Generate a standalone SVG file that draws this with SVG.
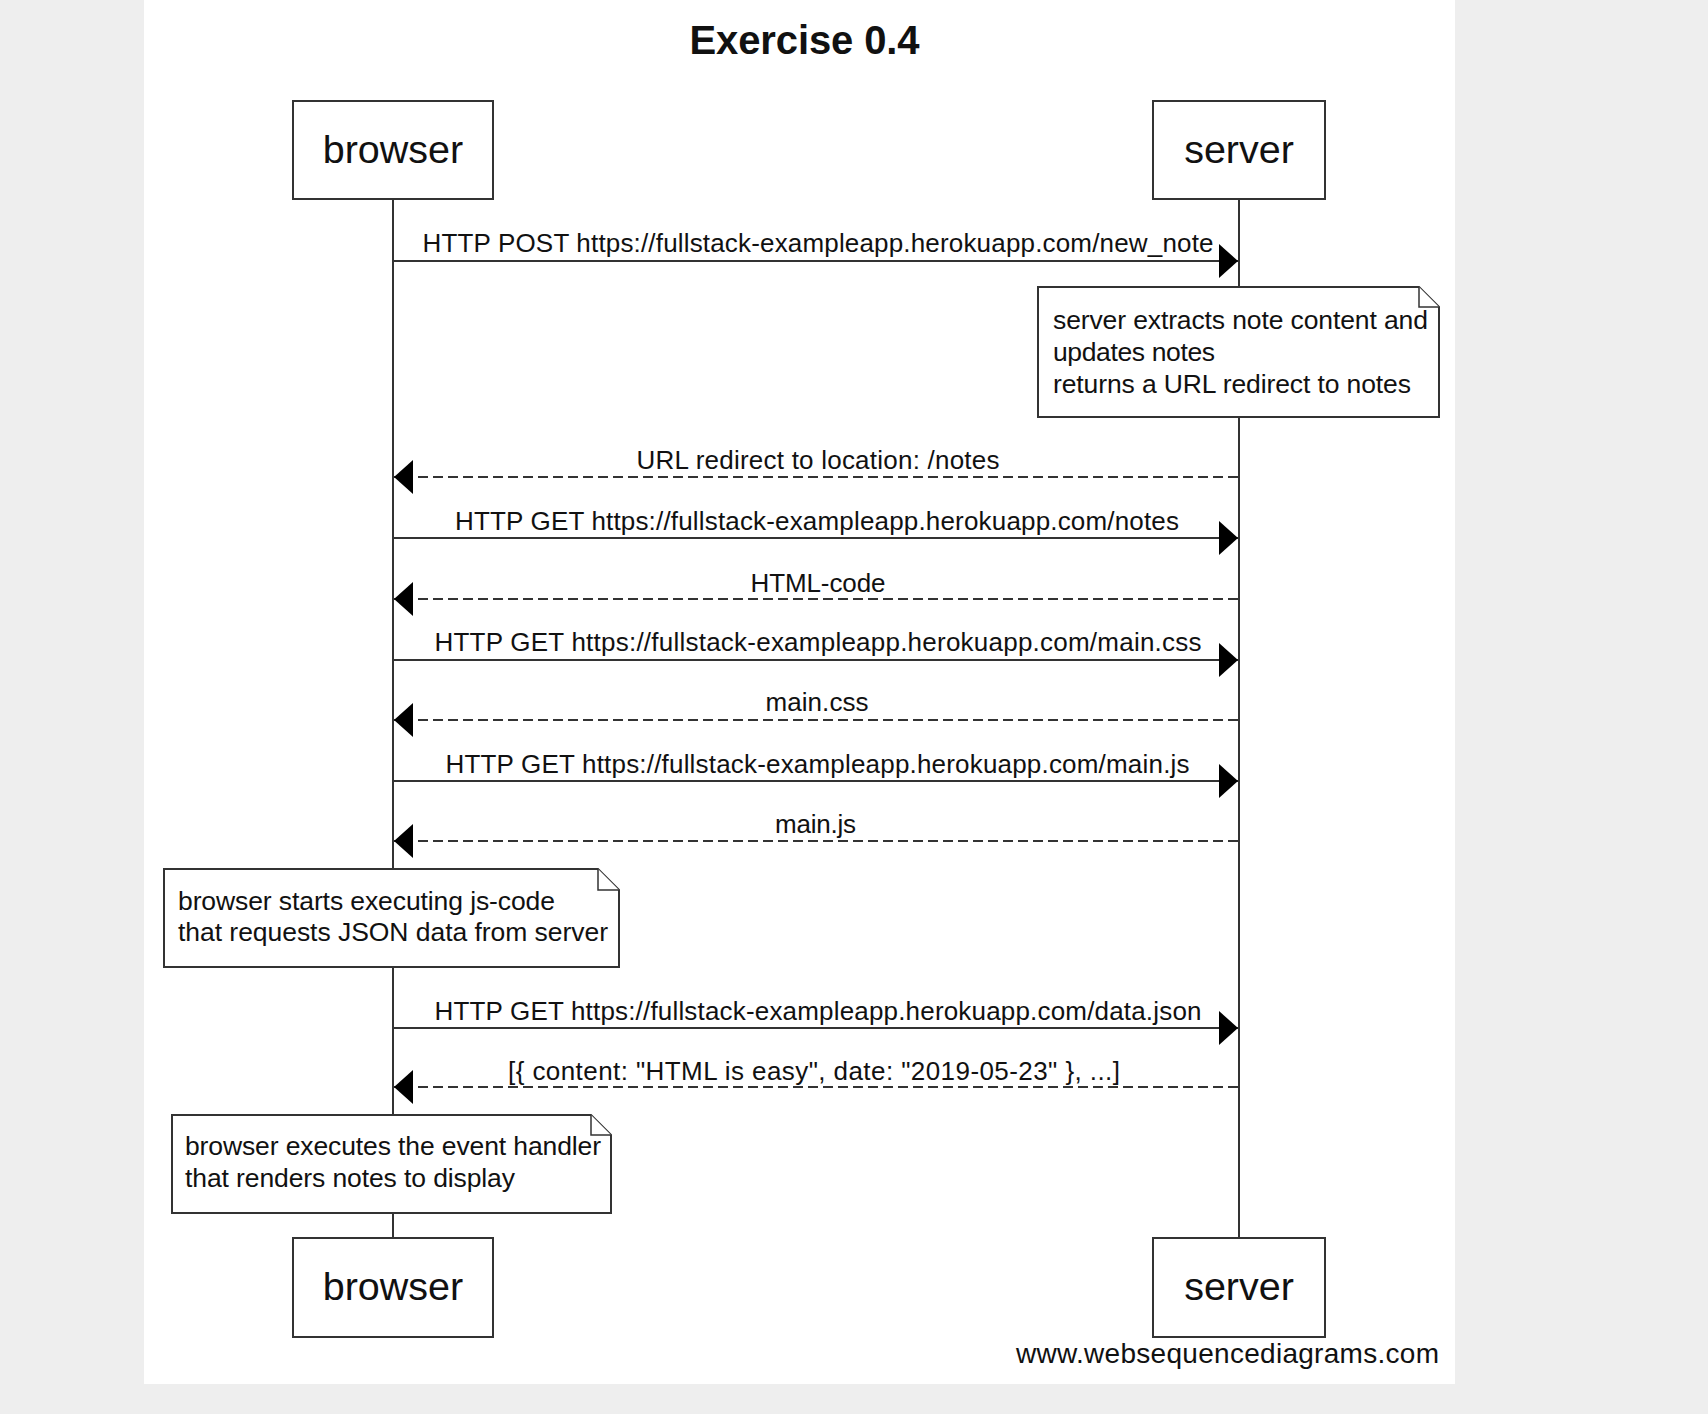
<svg xmlns="http://www.w3.org/2000/svg" width="1708" height="1414" viewBox="0 0 1708 1414">
<defs>
<style>
text{font-family:"Liberation Sans",Arial,sans-serif;fill:#111}
.title{font-size:40px;font-weight:bold}
.pname{font-size:39.5px;text-anchor:middle}
.lbl{font-size:26px;text-anchor:middle}
.ntxt{font-size:26.5px}
.wm{font-size:28px}
.box{fill:#fff;stroke:#333;stroke-width:2}
.life{stroke:#333;stroke-width:2;fill:none}
.msg{stroke:#333;stroke-width:2;fill:none}
.ret{stroke:#333;stroke-width:2;fill:none;stroke-dasharray:10 5}
.note{fill:#fff;stroke:#333;stroke-width:2}
.fold{fill:#fff;stroke:#333;stroke-width:1.5}
</style>
<marker id="ah" markerUnits="userSpaceOnUse" markerWidth="20" markerHeight="36" viewBox="0 0 20 36" refX="19" refY="18" orient="auto">
<path d="M0,1 L19,18 L0,35 Z" fill="#000"/>
</marker>
</defs>
<rect x="0" y="0" width="1708" height="1414" fill="#eeeeee"/>
<rect x="144" y="0" width="1311" height="1384" fill="#ffffff"/>
<text class="title" x="804.5" y="53.5" text-anchor="middle" textLength="230">Exercise 0.4</text>

<g id="lifelines">
<line class="life" x1="393" y1="199" x2="393" y2="1238"/>
<line class="life" x1="1239" y1="199" x2="1239" y2="1238"/>
</g>

<g id="connectors">
<line class="msg" x1="393" y1="261" x2="1238" y2="261" marker-end="url(#ah)"/>
<text class="lbl" x="818" y="252" textLength="791">HTTP POST https://fullstack-exampleapp.herokuapp.com/new_note</text>
<line class="ret" x1="1238" y1="477" x2="394" y2="477" marker-end="url(#ah)"/>
<text class="lbl" x="818" y="469" textLength="363">URL redirect to location: /notes</text>
<line class="msg" x1="393" y1="538" x2="1238" y2="538" marker-end="url(#ah)"/>
<text class="lbl" x="817" y="529.5" textLength="724">HTTP GET https://fullstack-exampleapp.herokuapp.com/notes</text>
<line class="ret" x1="1238" y1="599" x2="394" y2="599" marker-end="url(#ah)"/>
<text class="lbl" x="818" y="591.5" textLength="135">HTML-code</text>
<line class="msg" x1="393" y1="660" x2="1238" y2="660" marker-end="url(#ah)"/>
<text class="lbl" x="818" y="651" textLength="767">HTTP GET https://fullstack-exampleapp.herokuapp.com/main.css</text>
<line class="ret" x1="1238" y1="720" x2="394" y2="720" marker-end="url(#ah)"/>
<text class="lbl" x="817" y="711" textLength="103">main.css</text>
<line class="msg" x1="393" y1="781" x2="1238" y2="781" marker-end="url(#ah)"/>
<text class="lbl" x="817.5" y="772.5" textLength="744">HTTP GET https://fullstack-exampleapp.herokuapp.com/main.js</text>
<line class="ret" x1="1238" y1="841" x2="394" y2="841" marker-end="url(#ah)"/>
<text class="lbl" x="815.5" y="832.5" textLength="81">main.js</text>
<line class="msg" x1="393" y1="1028" x2="1238" y2="1028" marker-end="url(#ah)"/>
<text class="lbl" x="818" y="1019.5" textLength="767">HTTP GET https://fullstack-exampleapp.herokuapp.com/data.json</text>
<line class="ret" x1="1238" y1="1087" x2="394" y2="1087" marker-end="url(#ah)"/>
<text class="lbl" x="814" y="1080" textLength="612">[{ content: "HTML is easy", date: "2019-05-23" }, ...]</text>
</g>

<g id="browser-top">
<rect class="box" x="293" y="101" width="200" height="98"/>
<text class="pname" x="393" y="163">browser</text>
</g>
<g id="server-top">
<rect class="box" x="1153" y="101" width="172" height="98"/>
<text class="pname" x="1239" y="163">server</text>
</g>
<g id="browser-bottom">
<rect class="box" x="293" y="1238" width="200" height="99"/>
<text class="pname" x="393" y="1300">browser</text>
</g>
<g id="server-bottom">
<rect class="box" x="1153" y="1238" width="172" height="99"/>
<text class="pname" x="1239" y="1300">server</text>
</g>

<g id="note-server">
<path class="note" d="M1038,287 H1419 L1439,307 V417 H1038 Z"/>
<path class="fold" d="M1419,287 V307 H1439"/>
<text class="ntxt" x="1053" y="328.5" textLength="375">server extracts note content and</text>
<text class="ntxt" x="1053" y="360.5" textLength="162">updates notes</text>
<text class="ntxt" x="1053" y="392.5" textLength="358">returns a URL redirect to notes</text>
</g>
<g id="note-browser-js">
<path class="note" d="M164,869 H598 L619,890 V967 H164 Z"/>
<path class="fold" d="M598,869 V890 H619"/>
<text class="ntxt" x="178" y="910" textLength="377">browser starts executing js-code</text>
<text class="ntxt" x="178" y="941" textLength="430">that requests JSON data from server</text>
</g>
<g id="note-browser-render">
<path class="note" d="M172,1115 H591 L611,1135 V1213 H172 Z"/>
<path class="fold" d="M591,1115 V1135 H611"/>
<text class="ntxt" x="185" y="1155" textLength="416">browser executes the event handler</text>
<text class="ntxt" x="185" y="1187" textLength="330">that renders notes to display</text>
</g>

<text class="wm" x="1016" y="1363" textLength="423">www.websequencediagrams.com</text>
</svg>
